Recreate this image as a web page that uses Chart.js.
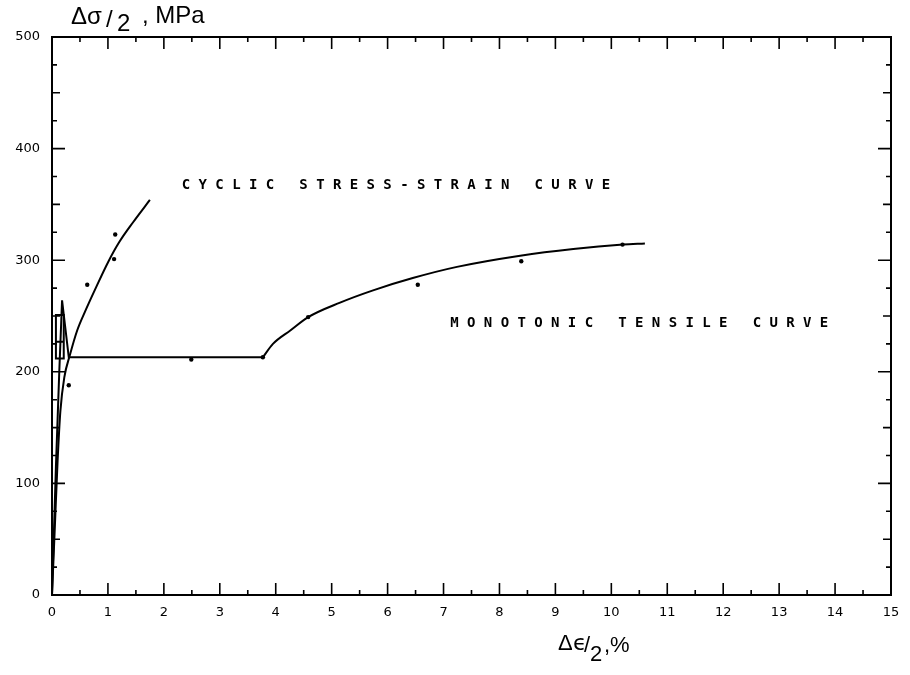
<!DOCTYPE html>
<html lang="en">
<head>
  <meta charset="UTF-8">
  <title>Cyclic and monotonic stress-strain curves</title>
  <style>
    html, body {
      margin: 0;
      padding: 0;
      background: #ffffff;
    }
    #wrap {
      width: 910px;
      height: 675px;
    }
  </style>
</head>
<body>
  <div id="wrap"><canvas id="chart" width="910" height="675"></canvas></div>

  <script src="https://cdn.jsdelivr.net/npm/chart.js"></script>
  <script>
    // Cyclic stress-strain curve (strain amplitude %, stress amplitude MPa)
    const cyclicStrain = [0, 0.05, 0.10, 0.15, 0.22, 0.32, 0.45, 0.60, 0.80, 1.00, 1.20, 1.45, 1.75];
    const cyclicStress = [0, 60, 120, 165, 195, 215, 237, 255, 277, 298, 316, 334, 354];
    const cyclicDotStrain = [0.30, 0.63, 1.11, 1.13];
    const cyclicDotStress = [188, 278, 301, 323];

    // Monotonic tensile curve: elastic part, yield drop, Luders plateau
    const monoStrain = [0, 0.07, 0.13, 0.18, 0.30, 3.77];
    const monoStress = [0, 115, 200, 264, 213, 213];
    // yield loops near the upper yield point
    const loopStrain = [0.07, 0.07, 0.21, 0.21, 0.07, 0.07, 0.21];
    const loopStress = [212, 251, 251, 212, 212, 227, 227];
    // strain hardening part
    const hardStrain = [3.77, 3.95, 4.26, 4.58, 5.15, 5.74, 6.45, 7.24, 8.37, 9.32, 10.21, 10.6];
    const hardStress = [213, 225, 237, 249, 262, 273, 284, 294, 304, 310, 314, 315];
    const monoDotStrain = [2.49, 3.77, 4.58, 6.54, 8.39, 10.2];
    const monoDotStress = [211, 213, 249, 278, 299, 314];

    const xTickLabels = ['0', '1', '2', '3', '4', '5', '6', '7', '8', '9', '10', '11', '12', '13', '14', '15'];
    const yTickLabels = ['0', '100', '200', '300', '400', '500'];

    const curveLabels = [
      { text: 'CYCLIC STRESS-STRAIN CURVE', x: 2.32, y: 367 },
      { text: 'MONOTONIC TENSILE CURVE', x: 7.12, y: 243 }
    ];

    const pts = (xs, ys) => xs.map((v, i) => ({ x: v, y: ys[i] }));

    const lineStyle = {
      showLine: true,
      borderColor: '#000',
      borderWidth: 2,
      pointRadius: 0,
      fill: false
    };
    const dotStyle = {
      showLine: false,
      pointRadius: 2.2,
      pointBackgroundColor: '#000',
      pointBorderWidth: 0
    };

    // inward ticks, frame, titles and curve labels
    const framePlugin = {
      id: 'frame',
      afterDraw(chart) {
        const { ctx, chartArea: { left, right, top, bottom }, scales: { x, y } } = chart;
        ctx.save();
        ctx.strokeStyle = '#000';
        ctx.lineWidth = 2;
        ctx.strokeRect(left, top, right - left, bottom - top);

        ctx.lineWidth = 1.6;
        ctx.beginPath();
        for (let v = 0.5; v < 15; v += 0.5) {
          const px = x.getPixelForValue(v);
          const len = v % 1 === 0 ? 12 : 5;
          ctx.moveTo(px, bottom); ctx.lineTo(px, bottom - len);
          ctx.moveTo(px, top); ctx.lineTo(px, top + len);
        }
        for (let v = 25; v < 500; v += 25) {
          const py = y.getPixelForValue(v);
          const len = v % 100 === 0 ? 13 : (v % 50 === 0 ? 8 : 5);
          ctx.moveTo(left, py); ctx.lineTo(left + len, py);
          ctx.moveTo(right, py); ctx.lineTo(right - len, py);
        }
        ctx.stroke();

        // curve labels, fixed-pitch printer lettering
        ctx.fillStyle = '#000';
        ctx.font = 'bold 14px "DejaVu Sans Mono"';
        ctx.textAlign = 'left';
        ctx.textBaseline = 'middle';
        curveLabels.forEach(l => {
          let px = x.getPixelForValue(l.x);
          const py = y.getPixelForValue(l.y);
          for (const ch of l.text) {
            ctx.fillText(ch, px, py);
            px += 16.8;
          }
        });

        // y axis title: Δσ/2 , MPa
        ctx.textBaseline = 'alphabetic';
        ctx.font = '24px "Liberation Sans"';
        ctx.fillText('Δσ', 71, 24);
        ctx.fillText('/', 106, 27);
        ctx.fillText('2', 117, 31);
        ctx.fillText(', MPa', 142, 23);

        // x axis title: Δϵ/2,%
        ctx.font = '22px "Liberation Sans"';
        ctx.fillText('Δ', 558, 650);
        ctx.font = '22px "DejaVu Sans"';
        ctx.fillText('ϵ', 573, 650);
        ctx.font = '22px "Liberation Sans"';
        ctx.fillText('/', 584, 652);
        ctx.fillText('2', 590, 661);
        ctx.fillText(',%', 604, 652);
        ctx.restore();
      }
    };

    new Chart(document.getElementById('chart'), {
      type: 'scatter',
      data: {
        datasets: [
          Object.assign({ label: 'Cyclic', data: pts(cyclicStrain, cyclicStress), cubicInterpolationMode: 'monotone' }, lineStyle),
          Object.assign({ label: 'Monotonic', data: pts(monoStrain, monoStress), tension: 0 }, lineStyle),
          Object.assign({ label: 'Yield loops', data: pts(loopStrain, loopStress), tension: 0, borderWidth: 1.5 }, lineStyle),
          Object.assign({ label: 'Hardening', data: pts(hardStrain, hardStress), cubicInterpolationMode: 'monotone' }, lineStyle),
          Object.assign({ label: 'Cyclic data', data: pts(cyclicDotStrain, cyclicDotStress) }, dotStyle),
          Object.assign({ label: 'Monotonic data', data: pts(monoDotStrain, monoDotStress) }, dotStyle)
        ]
      },
      options: {
        responsive: false,
        animation: false,
        layout: { padding: { left: 0, right: 19, top: 37, bottom: 0 } },
        plugins: {
          legend: { display: false },
          tooltip: { enabled: false }
        },
        scales: {
          x: {
            type: 'linear',
            min: 0,
            max: 15,
            afterFit: s => { s.height = 80; },
            border: { display: false },
            grid: { display: false, drawTicks: false },
            ticks: {
              stepSize: 1,
              padding: 10,
              color: '#000',
              font: { family: 'DejaVu Sans', size: 13 },
              maxRotation: 0,
              callback: v => xTickLabels[v]
            }
          },
          y: {
            type: 'linear',
            min: 0,
            max: 500,
            afterFit: s => { s.width = 52; },
            border: { display: false },
            grid: { display: false, drawTicks: false },
            ticks: {
              stepSize: 100,
              padding: 12,
              color: '#000',
              font: { family: 'DejaVu Sans', size: 13 },
              callback: v => yTickLabels[v / 100]
            }
          }
        }
      },
      plugins: [framePlugin]
    });
  </script>
</body>
</html>
